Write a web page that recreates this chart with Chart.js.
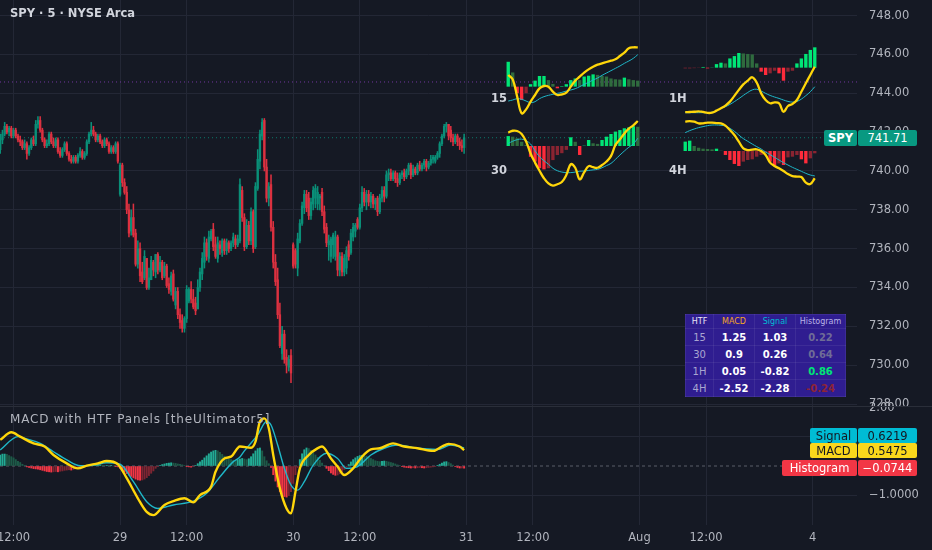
<!DOCTYPE html>
<html>
<head>
<meta charset="utf-8">
<script src="https://cdn.jsdelivr.net/npm/chart.js@4.4.1/dist/chart.umd.min.js"></script>
<style>
  html, body { margin: 0; padding: 0; width: 932px; height: 550px; overflow: hidden; background: #151924; font-family: 'DejaVu Sans', sans-serif; }
  canvas { position: absolute; }
  .txt { position: absolute; white-space: nowrap; }
  .tag { position: absolute; display: flex; align-items: center; justify-content: center; font: 11.5px 'DejaVu Sans'; border-radius: 2px; }
  #tbl { position: absolute; left: 685px; top: 314px; width: 161px; height: 83px; background: #2f1d90; }
  #tbl table { border-collapse: collapse; width: 100%; height: 100%; }
  #tbl td, #tbl th { border: 1px solid rgba(255,255,255,0.07); text-align: center; padding: 0; }
  #tbl th { font: 8px 'DejaVu Sans'; height: 13px; }
  #tbl td { font: bold 10px 'DejaVu Sans'; color: #fff; }
  #tbl td.k { font-weight: normal; color: #a9a5d0; }
</style>
</head>
<body>
<canvas id="price" width="932" height="420" style="left:0;top:0"></canvas>
<canvas id="macd" width="932" height="154" style="left:0;top:396px"></canvas>
<canvas id="p15" width="134" height="72" style="left:506px;top:45px"></canvas>
<canvas id="p1H" width="134" height="72" style="left:683px;top:45px"></canvas>
<canvas id="p30" width="134" height="72" style="left:506px;top:118px"></canvas>
<canvas id="p4H" width="134" height="72" style="left:683px;top:118px"></canvas>
<div style="position:absolute;left:0;top:406px;width:932px;height:1px;background:#2a2e39"></div>

<div class="txt" style="left:10px;top:6px;font:bold 11.5px 'DejaVu Sans';color:#d1d4dc">SPY · 5 · NYSE Arca</div>
<div class="txt" style="left:10px;top:412px;font:12px 'DejaVu Sans';letter-spacing:0.8px;color:#b2b5be">MACD with HTF Panels [theUltimator5]</div>
<div class="txt" style="left:491px;top:91px;font:bold 11.5px 'DejaVu Sans';color:#d1d4dc">15</div>
<div class="txt" style="left:491px;top:163px;font:bold 11.5px 'DejaVu Sans';color:#d1d4dc">30</div>
<div class="txt" style="left:669px;top:91px;font:bold 11.5px 'DejaVu Sans';color:#d1d4dc">1H</div>
<div class="txt" style="left:669px;top:163px;font:bold 11.5px 'DejaVu Sans';color:#d1d4dc">4H</div>

<div id="tbl"></div>

<div class="tag" style="left:824px;top:130px;width:33px;height:16px;background:#089981;color:#fff;font-weight:bold">SPY</div>
<div class="tag" style="left:858px;top:130px;width:59px;height:16px;background:#089981;color:#fff">741.71</div>
<div class="tag" style="left:810px;top:428px;width:47px;height:15px;background:#00bcd4;color:#131722">Signal</div>
<div class="tag" style="left:858px;top:428px;width:59px;height:15px;background:#00bcd4;color:#131722">0.6219</div>
<div class="tag" style="left:810px;top:443px;width:47px;height:15px;background:#f9d71c;color:#131722">MACD</div>
<div class="tag" style="left:858px;top:443px;width:59px;height:15px;background:#f9d71c;color:#131722">0.5475</div>
<div class="tag" style="left:782px;top:460px;width:75px;height:16px;background:#f23645;color:#fff">Histogram</div>
<div class="tag" style="left:858px;top:460px;width:59px;height:16px;background:#f23645;color:#fff">−0.0744</div>

<script>
// 5 min SPY bars, index 0 = 28th 11:30
const opens = [
  741.1,741.6,741.9,742.3,742.0,742.2,741.8,742.1,741.8,741.6,
  741.5,741.2,741.4,740.9,741.2,741.6,741.4,742.4,742.6,742.1,
  741.6,741.3,741.4,741.9,741.5,741.3,741.6,741.0,740.8,741.1,
  741.4,740.9,740.6,740.5,740.7,740.5,740.8,741.0,740.7,740.9,
  741.5,741.9,742.1,741.9,741.6,741.8,741.5,741.3,741.6,741.4,
  741.0,741.2,741.0,741.4,738.8,740.3,739.4,738.9,738.0,736.9,
  737.6,736.8,735.2,736.0,734.8,734.5,735.5,734.0,734.4,735.3,
  734.8,735.7,734.9,735.3,734.6,735.1,734.2,733.8,734.7,733.1,
  733.8,732.6,732.3,731.9,732.4,733.3,733.9,733.4,733.2,732.9,
  734.0,734.7,735.3,736.3,735.5,736.5,737.0,736.2,735.5,736.2,
  735.8,736.4,735.9,736.3,736.0,736.3,736.5,736.2,736.4,739.0,
  737.6,736.1,737.2,736.4,737.9,736.1,739.1,740.5,741.8,742.6,
  740.2,738.6,739.3,737.1,735.3,734.4,732.6,730.6,731.6,730.4,
  729.9,730.5,736.2,735.9,735.0,736.4,737.3,738.1,738.8,738.6,
  737.7,738.3,738.6,738.3,738.6,738.9,737.9,737.1,736.2,735.6,
  736.2,735.6,736.6,734.9,735.6,734.8,735.0,736.2,735.8,736.6,
  736.9,737.5,737.1,738.1,738.9,738.4,738.8,738.4,738.7,738.3,
  738.6,737.9,738.6,739.0,738.7,739.8,739.9,739.6,739.9,739.6,
  739.4,739.8,739.9,739.7,740.0,740.3,739.8,740.1,739.9,740.3,
  740.1,740.3,740.5,740.2,740.4,740.6,740.5,740.7,740.9,741.4,
  741.8,742.3,742.4,742.1,741.7,741.5,741.8,741.5,741.3,741.2
];
const highs = [
  741.9,742.1,742.5,742.4,742.3,742.3,742.2,742.2,741.9,741.8,
  741.6,741.6,741.5,741.3,741.7,741.8,742.6,742.8,742.8,742.2,
  741.7,741.6,742.0,742.0,741.7,741.7,741.7,741.2,741.2,741.5,
  741.5,741.0,740.8,740.8,740.8,740.9,741.2,741.1,741.0,741.6,
  742.0,742.5,742.3,742.0,741.9,741.9,741.6,741.7,741.7,741.5,
  741.3,741.3,741.5,741.5,740.4,740.4,739.6,739.2,738.3,738.0,
  738.3,737.0,736.4,736.3,735.3,735.9,735.5,735.0,735.6,735.4,
  735.7,735.8,735.6,735.4,735.3,735.2,734.5,734.8,734.9,734.0,
  734.0,732.9,732.6,732.5,734.1,734.0,734.3,733.9,733.5,734.4,
  735.0,735.8,736.6,736.5,736.9,737.0,737.3,736.6,736.6,736.4,
  736.5,736.5,736.5,736.4,736.4,736.8,736.7,736.7,739.6,739.2,
  737.8,737.5,737.4,738.1,738.0,739.4,741.1,742.1,742.7,742.7,
  740.6,739.4,739.8,737.4,735.7,735.0,733.2,732.0,731.8,730.8,
  730.5,730.8,736.3,736.0,736.8,737.5,738.4,739.0,739.0,738.9,
  738.6,739.2,739.3,739.2,738.8,739.1,738.2,737.3,736.7,736.6,
  736.8,736.9,736.7,735.8,735.8,735.7,736.1,736.4,737.0,737.3,
  737.3,737.6,738.3,739.2,739.1,739.0,739.0,738.9,738.8,738.6,
  738.7,738.8,739.2,739.2,740.0,740.1,740.1,740.0,740.0,739.9,
  739.9,740.0,740.1,740.1,740.4,740.4,740.3,740.2,740.4,740.5,
  740.4,740.6,740.6,740.5,740.8,740.8,740.8,741.0,741.5,741.9,
  742.4,742.5,742.4,742.3,741.9,741.9,741.9,741.7,741.6,741.9
];
const lows = [
  740.9,741.4,741.8,741.9,741.8,741.7,741.7,741.7,741.5,741.3,
  741.1,741.1,740.6,740.8,741.1,741.3,741.3,742.2,742.0,741.5,
  741.2,741.2,741.3,741.4,741.2,741.2,740.9,740.7,740.7,741.0,
  740.8,740.5,740.4,740.4,740.4,740.4,740.7,740.6,740.6,740.8,
  741.4,741.8,741.8,741.5,741.5,741.4,741.2,741.2,741.3,740.9,
  740.9,740.9,740.9,740.4,738.7,739.2,738.8,737.8,736.6,736.7,
  736.6,735.1,735.0,734.3,734.2,734.4,733.9,733.9,734.4,734.6,
  734.5,734.7,734.8,734.4,734.5,734.0,733.7,733.6,733.3,732.9,
  732.4,731.9,731.7,731.7,732.2,733.2,733.2,732.9,732.6,732.9,
  733.8,734.4,735.0,735.4,735.3,736.4,735.9,735.5,735.3,735.7,
  735.6,735.7,735.7,735.8,735.9,736.1,736.0,736.1,736.3,737.4,
  735.9,736.0,736.2,736.2,735.8,736.0,739.0,740.1,741.6,740.0,
  738.4,738.2,736.9,735.0,734.1,732.4,730.9,730.3,730.1,729.6,
  729.7,729.1,735.0,735.0,734.6,736.3,737.2,737.8,737.9,737.5,
  737.5,738.0,738.1,738.0,738.0,737.7,736.8,736.1,735.4,735.3,
  735.5,735.4,734.6,734.6,734.6,734.6,734.7,735.4,735.7,736.4,
  736.6,737.0,737.0,737.9,738.2,738.0,738.2,738.1,738.1,738.0,
  737.7,737.8,738.4,738.4,738.6,739.5,739.5,739.5,739.4,739.2,
  739.3,739.6,739.5,739.6,739.8,739.6,739.7,739.8,739.8,740.0,
  740.0,740.1,740.0,740.1,740.3,740.4,740.4,740.6,740.7,741.3,
  741.7,742.0,741.6,741.5,741.3,741.4,741.3,741.1,741.0,740.9
];
const closes = [
  741.7,741.9,742.3,742.0,742.2,741.8,742.1,741.8,741.6,741.5,
  741.2,741.4,740.9,741.2,741.6,741.4,742.4,742.6,742.1,741.6,
  741.3,741.4,741.9,741.5,741.3,741.6,741.0,740.8,741.1,741.4,
  740.9,740.6,740.5,740.7,740.5,740.8,741.0,740.7,740.9,741.5,
  741.9,742.1,741.9,741.6,741.8,741.5,741.3,741.6,741.4,741.0,
  741.2,741.0,741.4,740.5,740.3,739.4,738.9,738.0,736.8,737.6,
  736.7,735.2,736.0,734.6,734.3,735.6,734.0,734.5,735.4,734.9,
  735.7,734.9,735.3,734.5,735.1,734.1,733.9,734.6,733.4,733.8,
  732.6,732.2,731.9,732.4,733.9,733.9,733.4,733.0,732.8,734.0,
  734.8,735.5,736.3,735.6,736.6,736.9,736.1,735.6,736.3,736.0,
  736.4,735.9,736.3,736.0,736.3,736.6,736.2,736.5,739.3,737.6,
  736.1,737.2,736.4,737.9,736.0,739.2,740.6,741.9,742.5,740.2,
  738.6,739.2,737.1,735.3,734.3,732.6,731.0,731.6,730.3,730.0,
  730.3,729.6,735.1,735.2,736.5,737.3,738.2,738.8,738.1,737.7,
  738.4,739.0,739.1,738.9,738.7,737.9,737.0,736.3,736.4,736.5,
  736.7,736.6,734.9,735.6,734.8,735.5,735.9,735.6,736.8,737.1,
  737.2,737.1,738.1,738.9,738.4,738.8,738.4,738.7,738.3,738.5,
  737.9,738.6,739.0,738.7,739.8,739.9,739.6,739.9,739.6,739.4,
  739.8,739.9,739.7,740.0,740.3,739.8,740.1,739.9,740.3,740.1,
  740.3,740.5,740.2,740.4,740.6,740.7,740.7,740.9,741.4,741.8,
  742.3,742.4,741.8,741.7,741.5,741.8,741.5,741.3,741.2,741.71
];
const lastPrice = 741.71;
const refLevel = 744.58;
const priceTicks = [728, 730, 732, 734, 736, 738, 740, 742, 744, 746, 748];

// time axis (bar index -> label)
const timeIdx = [6, 54, 84, 132, 162, 210, 240, 288, 318, 366];
const timeText = ['12:00', '29', '12:00', '30', '12:00', '31', '12:00', 'Aug', '12:00', '4'];

// MACD pane
const histogram = [
  0.38,0.41,0.41,0.40,0.36,0.32,0.28,0.22,0.16,0.12,
  0.06,0.02,-0.03,-0.05,-0.07,-0.09,-0.10,-0.11,-0.13,-0.15,
  -0.17,-0.19,-0.20,-0.21,-0.20,-0.19,-0.20,-0.18,-0.17,-0.15,
  -0.14,-0.13,-0.14,-0.12,-0.10,-0.09,-0.07,-0.05,-0.03,-0.02,
  0.00,0.01,0.02,0.03,0.03,0.04,0.03,0.02,0.02,0.01,
  0.01,0.00,-0.01,-0.03,-0.08,-0.13,-0.20,-0.26,-0.31,-0.36,
  -0.41,-0.45,-0.48,-0.49,-0.48,-0.45,-0.40,-0.33,-0.25,-0.17,
  -0.08,-0.02,0.02,0.05,0.07,0.09,0.10,0.11,0.10,0.09,
  0.07,0.06,0.04,0.02,-0.01,-0.03,-0.04,-0.02,0.02,0.08,
  0.14,0.20,0.28,0.35,0.42,0.48,0.52,0.54,0.52,0.47,
  0.40,0.34,0.28,0.24,0.22,0.20,0.19,0.22,0.24,0.26,
  0.24,0.22,0.25,0.32,0.42,0.52,0.60,0.62,0.52,0.32,
  0.18,0.08,-0.05,-0.30,-0.52,-0.72,-0.88,-0.98,-1.05,-1.07,
  -1.02,-0.88,-0.60,-0.30,-0.05,0.22,0.42,0.56,0.62,0.60,
  0.54,0.46,0.38,0.30,0.20,0.10,0.02,-0.08,-0.16,-0.24,
  -0.29,-0.32,-0.31,-0.27,-0.20,-0.12,-0.04,0.05,0.14,0.22,
  0.28,0.33,0.36,0.37,0.36,0.34,0.30,0.26,0.22,0.18,
  0.16,0.15,0.16,0.17,0.16,0.14,0.12,0.10,0.07,0.04,
  0.01,-0.02,-0.04,-0.05,-0.06,-0.07,-0.06,-0.07,-0.06,-0.05,
  -0.06,-0.07,-0.06,-0.05,-0.04,-0.03,-0.02,0.01,0.06,0.10,
  0.14,0.15,0.12,0.08,0.03,-0.02,-0.05,-0.07,-0.07,-0.0744
];
const macdIdx = [0,5,9,15,20,24,30,35,39,44,48,53,57,62,66,69,74,78,83,87,90,95,97,101,104,108,113,115,117,119,121,123,126,129,131,133,135,139,143,145,149,152,155,159,163,167,171,177,182,188,195,199,202,207,209];
const macdVal = [0.90,1.16,1.01,0.78,0.67,0.38,0.09,-0.08,0.01,0.09,0.17,0.06,-0.42,-1.11,-1.58,-1.69,-1.34,-1.21,-1.11,-1.25,-1.00,-0.71,-0.20,0.26,0.32,0.67,0.63,0.84,1.53,1.64,1.30,0.38,-0.77,-1.46,-1.63,-0.89,-0.08,0.38,0.61,0.67,0.26,-0.02,-0.31,-0.08,0.32,0.57,0.61,0.78,0.67,0.61,0.52,0.67,0.76,0.67,0.5475];
const sigIdx = [0,8,12,18,24,30,36,42,48,54,60,66,71,78,87,93,99,105,108,110,116,120,122,125,128,131,134,137,141,147,152,156,161,167,173,179,188,197,203,209];
const sigVal = [0.55,1.01,0.93,0.78,0.49,0.21,0.01,0.03,0.11,0.06,-0.54,-1.23,-1.46,-1.34,-1.21,-0.94,-0.37,0.15,0.31,0.52,1.07,1.53,1.41,0.72,-0.08,-0.66,-0.83,-0.54,0.03,0.44,0.26,-0.08,-0.02,0.38,0.61,0.72,0.61,0.57,0.72,0.6219];
const macdTickVals = [2, 1, 0, -1];
const macdTickText = ['2.00', '1.0000', '', '−1.0000'];

// higher timeframe panels
const h15 = [0.91,0.52,-0.24,-0.49,-0.24,0.09,0.22,0.39,0.39,0.24,0.10,-0.06,0.02,0.09,0.24,0.30,0.24,0.37,0.40,0.45,0.43,0.39,0.37,0.30,0.27,0.26,0.33,0.27,0.24,0.22];
const m15 = [0.42,0.29,-0.23,-0.73,-0.61,-0.38,-0.18,0.02,0.09,0.07,-0.08,-0.18,-0.16,-0.11,0.07,0.25,0.37,0.49,0.59,0.67,0.73,0.77,0.81,0.85,0.89,0.99,1.09,1.22,1.25,1.25];
const s15 = [-0.36,-0.33,-0.29,-0.31,-0.36,-0.41,-0.38,-0.29,-0.23,-0.19,-0.16,-0.13,-0.10,-0.06,-0.03,0.01,0.07,0.14,0.20,0.27,0.33,0.41,0.48,0.55,0.62,0.69,0.77,0.84,0.92,1.03];
const h30 = [0.33,0.31,0.26,0.14,0.04,-0.36,-0.52,-0.74,-0.78,-0.74,-0.47,-0.30,-0.24,-0.13,0.29,0.14,-0.30,0.01,0.20,0.09,0.07,0.20,0.31,0.40,0.48,0.53,0.59,0.62,0.66,0.64];
const m30 = [0.47,0.54,0.53,0.42,0.14,-0.30,-0.64,-0.94,-1.22,-1.41,-1.49,-1.44,-1.36,-1.10,-0.70,-0.83,-1.26,-1.00,-0.77,-0.81,-0.83,-0.73,-0.60,-0.40,0.01,0.22,0.44,0.62,0.74,0.90];
const s30 = [0.07,0.15,0.21,0.23,0.17,0.05,-0.20,-0.42,-0.57,-0.70,-0.85,-0.94,-0.99,-1.01,-1.01,-0.99,-0.96,-0.95,-0.93,-0.91,-0.89,-0.83,-0.75,-0.67,-0.52,-0.36,-0.21,-0.07,0.05,0.26];
const h1H = [-0.03,-0.03,-0.02,-0.01,0.03,-0.03,0.01,0.15,0.21,0.18,0.39,0.49,0.62,0.60,0.58,0.56,0.18,-0.17,-0.31,-0.24,-0.13,-0.24,-0.55,-0.17,-0.13,0.18,0.39,0.58,0.75,0.86];
const m1H = [-1.93,-1.92,-1.91,-1.89,-1.92,-1.96,-1.95,-1.86,-1.76,-1.64,-1.47,-1.22,-0.96,-0.72,-0.56,-0.41,-0.64,-1.11,-1.40,-1.54,-1.50,-1.54,-1.91,-1.66,-1.57,-1.40,-1.04,-0.67,-0.31,0.05];
const s1H = [-1.95,-1.95,-1.95,-1.95,-1.95,-1.95,-1.93,-1.86,-1.76,-1.69,-1.59,-1.47,-1.34,-1.20,-1.07,-0.96,-0.93,-1.01,-1.11,-1.20,-1.27,-1.33,-1.40,-1.46,-1.49,-1.46,-1.36,-1.21,-1.04,-0.82];
const h4H = [0.97,1.07,0.52,0.34,0.24,0.21,0.17,0.24,0.03,-0.41,-0.93,-1.34,-1.55,-1.10,-0.93,-0.86,-0.59,-0.41,-0.24,-1.10,-1.45,-1.28,-1.45,-0.66,-0.59,-0.41,-0.86,-1.28,-0.76,-0.24];
const m4H = [3.15,3.21,3.15,2.98,2.98,3.05,3.05,3.01,2.98,2.75,2.31,1.81,1.15,0.48,0.31,0.35,0.38,0.21,-0.19,-0.95,-1.29,-1.52,-1.79,-2.09,-2.29,-2.35,-2.39,-2.95,-3.09,-2.52];
const s4H = [2.05,2.25,2.41,2.55,2.65,2.75,2.81,2.81,2.78,2.71,2.48,2.18,1.81,1.45,1.18,0.91,0.65,0.41,0.11,-0.15,-0.42,-0.69,-0.95,-1.19,-1.42,-1.62,-1.82,-2.02,-2.19,-2.28];

// table
const tfLabels = ['15', '30', '1H', '4H'];
const tblMacd = ['1.25', '0.9', '0.05', '-2.52'];
const tblSignal = ['1.03', '0.26', '-0.82', '-2.28'];
const tblHist = ['0.22', '0.64', '0.86', '-0.24'];
const tblHistColor = ['#6f6c97', '#6f6c97', '#00e676', '#8e2436'];

const xMin = -0.1, xMax = 386;
const gridColor = '#232735';
const axisFont = { family: 'DejaVu Sans', size: 11.5 };
const axisColor = '#b2b5be';
const upColor = '#0a8f78', downColor = '#dc3140';

function candleColor(ctx) {
  const i = ctx.dataIndex;
  return closes[i] >= opens[i] ? upColor : downColor;
}

function histShade(arr, i, bg, dg, br, dr) {
  const v = arr[i];
  const p = i > 0 ? arr[i - 1] : v;
  if (v >= 0) return v >= p ? bg : dg;
  return v < p ? br : dr;
}

new Chart(document.getElementById('price'), {
  type: 'bar',
  data: {
    datasets: [{
      type: 'line',
      data: [{ x: xMin, y: refLevel }, { x: xMax, y: refLevel }],
      borderColor: 'rgba(130,60,180,0.85)', borderWidth: 1, borderDash: [1, 3],
      pointRadius: 0, order: 6
    }, {
      type: 'line',
      data: [{ x: xMin, y: lastPrice }, { x: xMax, y: lastPrice }],
      borderColor: 'rgba(8,153,129,0.75)', borderWidth: 1, borderDash: [1, 3],
      pointRadius: 0, order: 5
    }, {
      label: 'wick',
      data: lows.map((l, i) => ({ x: i, y: [l, highs[i]] })),
      backgroundColor: candleColor, barThickness: 0.9, grouped: false, order: 3
    }, {
      label: 'body',
      data: opens.map((o, i) => ({ x: i, y: [o, closes[i]] })),
      backgroundColor: candleColor, barThickness: 1.7, minBarLength: 1, grouped: false, order: 2
    }]
  },
  options: {
    animation: false,
    responsive: false,
    layout: { padding: 0 },
    plugins: { legend: { display: false }, tooltip: { enabled: false } },
    scales: {
      x: {
        type: 'linear', min: xMin, max: xMax, offset: false,
        afterBuildTicks: s => { s.ticks = timeIdx.map(v => ({ value: v })); },
        ticks: { display: false },
        grid: { color: gridColor, drawTicks: false, offset: false },
        border: { display: false },
        afterFit: s => { s.height = 14; s.paddingLeft = 0; s.paddingRight = 0; }
      },
      y: {
        position: 'right', min: 727.9, max: 748.8,
        afterBuildTicks: s => { s.ticks = priceTicks.map(v => ({ value: v })); },
        ticks: { callback: v => v.toFixed(2), color: axisColor, font: axisFont, padding: 12, autoSkip: false },
        grid: { color: gridColor, drawTicks: false },
        border: { display: false },
        afterFit: s => { s.width = 75; s.paddingTop = 0; s.paddingBottom = 0; }
      }
    }
  }
});

new Chart(document.getElementById('macd'), {
  type: 'bar',
  data: {
    datasets: [{
      type: 'line',
      data: [{ x: xMin, y: 0 }, { x: xMax, y: 0 }],
      borderColor: 'rgba(120,123,134,0.7)', borderWidth: 1, borderDash: [3, 3],
      pointRadius: 0, order: 5
    }, {
      label: 'Histogram',
      data: histogram.map((v, i) => ({ x: i, y: v })),
      backgroundColor: c => histShade(histogram, c.dataIndex, '#22ab94', '#1d5a48', '#f23645', '#7e2532'),
      barThickness: 1.3, order: 3
    }, {
      type: 'line', label: 'Signal',
      data: sigIdx.map((x, k) => ({ x: x, y: sigVal[k] })),
      borderColor: '#1fb7c8', borderWidth: 1.4, cubicInterpolationMode: 'monotone',
      pointRadius: 0, order: 2
    }, {
      type: 'line', label: 'MACD',
      data: macdIdx.map((x, k) => ({ x: x, y: macdVal[k] })),
      borderColor: '#ffd60a', borderWidth: 2.4, cubicInterpolationMode: 'monotone',
      pointRadius: 0, order: 1
    }]
  },
  options: {
    animation: false,
    responsive: false,
    layout: { padding: { top: 11, left: 0, right: 0, bottom: 0 } },
    plugins: { legend: { display: false }, tooltip: { enabled: false } },
    scales: {
      x: {
        type: 'linear', min: xMin, max: xMax, offset: false,
        afterBuildTicks: s => { s.ticks = timeIdx.map(v => ({ value: v })); },
        ticks: { callback: (v, i) => timeText[i], color: axisColor, font: axisFont, padding: 6, maxRotation: 0, autoSkip: false },
        grid: { color: gridColor, drawTicks: false, offset: false },
        border: { display: false },
        afterFit: s => { s.height = 25; s.paddingLeft = 0; s.paddingRight = 0; }
      },
      y: {
        position: 'right', min: -2.03, max: 2.03,
        afterBuildTicks: s => { s.ticks = macdTickVals.map(v => ({ value: v })); },
        ticks: { callback: (v, i) => macdTickText[i], color: axisColor, font: axisFont, padding: 12, autoSkip: false },
        grid: { color: c => (c.tick && c.tick.value === 0) || (c.tick && c.tick.value === 2) ? 'transparent' : gridColor, drawTicks: false },
        border: { display: false },
        afterFit: s => { s.width = 75; s.paddingTop = 0; s.paddingBottom = 0; }
      }
    }
  }
});

function miniPanel(id, hist, macd, sig, rng) {
  new Chart(document.getElementById(id), {
    type: 'bar',
    data: {
      labels: hist.map((v, i) => i),
      datasets: [{
        type: 'line', data: macd, yAxisID: 'yl',
        borderColor: '#ffd60a', borderWidth: 2.3, tension: 0.4, pointRadius: 0, order: 1
      }, {
        type: 'line', data: sig, yAxisID: 'yl',
        borderColor: '#1fb7c8', borderWidth: 1, tension: 0.4, pointRadius: 0, order: 2
      }, {
        data: hist, yAxisID: 'yh',
        backgroundColor: c => histShade(hist, c.dataIndex, '#00e676', '#2f6b3e', '#ff2b3b', '#8a2431'),
        barPercentage: 0.75, categoryPercentage: 1, order: 3
      }]
    },
    options: {
      animation: false,
      responsive: false,
      layout: { padding: 0 },
      plugins: { legend: { display: false }, tooltip: { enabled: false } },
      scales: {
        x: { display: false },
        yl: { display: false, min: rng[0], max: rng[1] },
        yh: { display: false, min: rng[2], max: rng[3] }
      }
    }
  });
}

miniPanel('p15', h15, m15, s15, [-0.84, 1.32, -1.11, 1.524]);
miniPanel('p30', h30, m30, s30, [-1.654, 1.012, -1.467, 0.933]);
miniPanel('p1H', h1H, m1H, s1H, [-2.138, 0.993, -2.085, 0.958]);
miniPanel('p4H', h4H, m4H, s4H, [-3.687, 3.513, -4.034, 3.414]);

// HTF table
let html = '<table><tr><th style="color:#e8e6f5;width:27px">HTF</th><th style="color:#f5a623;width:40px">MACD</th>' +
  '<th style="color:#00bcd4;width:40px">Signal</th><th style="color:#b9b2e6">Histogram</th></tr>';
tfLabels.forEach((tf, i) => {
  html += '<tr><td class="k">' + tf + '</td><td>' + tblMacd[i] + '</td><td>' + tblSignal[i] +
    '</td><td style="color:' + tblHistColor[i] + '">' + tblHist[i] + '</td></tr>';
});
document.getElementById('tbl').innerHTML = html + '</table>';
</script>
</body>
</html>
